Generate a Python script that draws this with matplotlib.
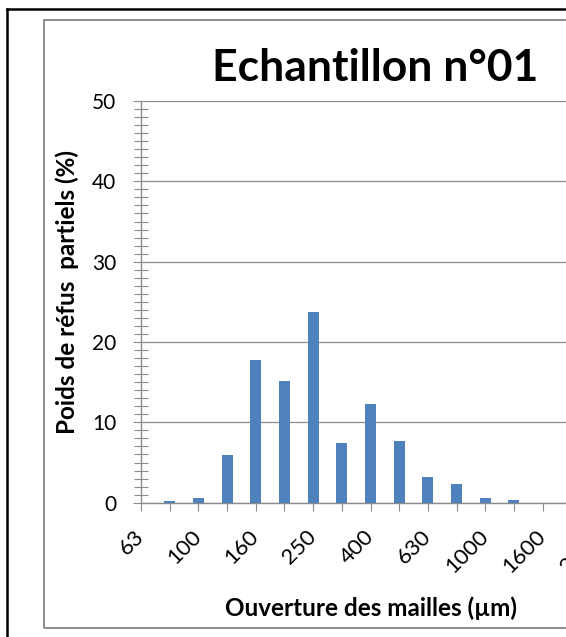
import matplotlib.pyplot as plt
import matplotlib.transforms as mtransforms
from matplotlib.patches import Rectangle
from matplotlib.lines import Line2D
from matplotlib.ticker import MultipleLocator
import numpy as np

# sieve openings (µm) and partial retained weight (%)
mailles = [63, 80, 100, 125, 160, 200, 250, 315, 400, 500, 630, 800,
           1000, 1250, 1600, 2000, 2500]
refus = [0.0, 0.2, 0.55, 5.95, 17.8, 15.15, 23.75, 7.4, 12.25, 7.7, 3.15,
         2.35, 0.55, 0.35, 0.0, 0.0, 0.0]

titre = "Echantillon n°01"
label_x = "Ouverture des mailles (µm)"
label_y = "Poids de réfus  partiels (%)"

plt.rcParams['font.family'] = ['Lato', 'DejaVu Sans']

W, H, DPI = 566, 637, 100
fig = plt.figure(figsize=(W / DPI, H / DPI), dpi=DPI)

# ======= chart frames ======= #
fig.add_artist(Line2D([6.5 / W, 6.5 / W], [1 - 8.5 / H, 0], color='black', lw=1.8,
                      transform=fig.transFigure))
fig.add_artist(Line2D([6.5 / W, 1.0], [1 - 8.5 / H, 1 - 8.5 / H], color='black', lw=1.8,
                      transform=fig.transFigure))
fig.add_artist(Rectangle((43.5 / W, 1 - 628 / H), 1.0, (628 - 19.5) / H,
                         fill=False, edgecolor='#8c8c8c', lw=1.4,
                         transform=fig.transFigure))

# ======= axes ======= #
x0, x1 = 141, 600      # pixel span of the category axis (cut by the frame)
y0, y1 = 502.7, 101
ax = fig.add_axes([x0 / W, 1 - y0 / H, (x1 - x0) / W, (y0 - y1) / H])
ax.patch.set_alpha(0)

x = np.arange(len(mailles))
ax.bar(x, refus, width=0.38, color='#4F81BD', zorder=3)

ax.set_xlim(0, len(mailles) - 1)
ax.set_ylim(0, 50)

grey = '#8c8c8c'
for side in ['top', 'right']:
    ax.spines[side].set_visible(False)
for side in ['left', 'bottom']:
    ax.spines[side].set_color(grey)
    ax.spines[side].set_linewidth(1.0)

ax.yaxis.set_major_locator(MultipleLocator(10))
ax.yaxis.set_minor_locator(MultipleLocator(1))
ax.grid(axis='y', color=grey, lw=0.9, zorder=0)
ax.set_axisbelow(True)

ax.tick_params(axis='y', which='major', direction='out', length=5.8, width=0.8,
               color=grey, pad=12, labelsize=15)
ax.tick_params(axis='y', which='minor', direction='inout', length=9.5, width=0.8,
               color=grey)

tick_lbls = [str(m) if i % 2 == 0 else '' for i, m in enumerate(mailles)]
ax.set_xticks(x, tick_lbls)
ax.tick_params(axis='x', which='major', direction='out', length=5.8, width=0.8,
               color=grey, pad=11, labelsize=16)
shift = mtransforms.ScaledTranslation(7 / DPI, 0, fig.dpi_scale_trans)
for lbl in ax.get_xticklabels():
    lbl.set_rotation(45)
    lbl.set_ha('right')
    lbl.set_va('top')
    lbl.set_transform(lbl.get_transform() + shift)

# ======= titles ======= #
ax.text((375 - x0) / (x1 - x0), (y0 - 81) / (y0 - y1), titre, transform=ax.transAxes,
        ha='center', va='baseline', fontsize=32, fontweight='bold')
ax.set_xlabel(label_x, fontsize=17.5, fontweight='bold', va='baseline')
ax.xaxis.set_label_coords((371 - x0) / (x1 - x0), (y0 - 616) / (y0 - y1))
ax.set_ylabel(label_y, fontsize=17.5, fontweight='bold', va='center')
ax.yaxis.set_label_coords((67 - x0) / (x1 - x0), (y0 - 292) / (y0 - y1))

fig.savefig('out.png', dpi=DPI)
